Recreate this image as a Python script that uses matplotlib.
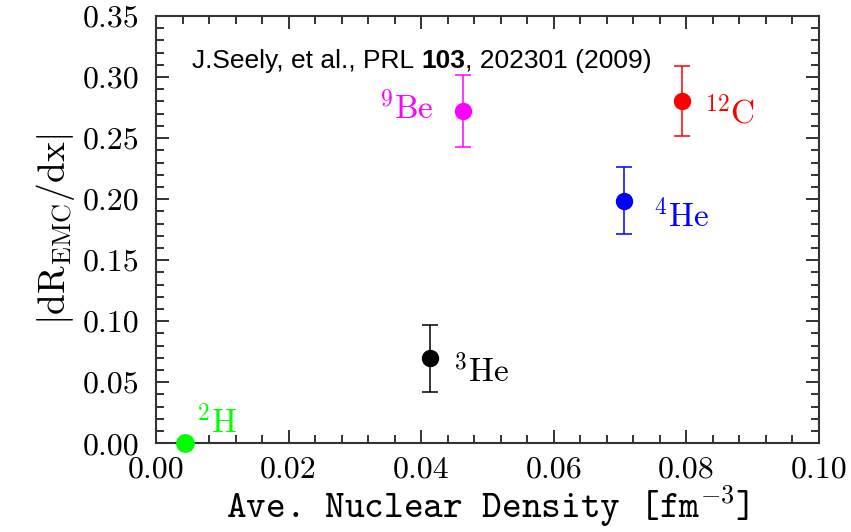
#!/usr/bin/env python3
import numpy as np
import matplotlib
matplotlib.use("Agg")
import matplotlib.pyplot as plt
from matplotlib.ticker import MultipleLocator

# nuclei, density (fm^-3), |dR_EMC/dx| and its error
nuclei = ["2H", "3He", "9Be", "4He", "12C"]
density = [0.0043, 0.0414, 0.0463, 0.0706, 0.0793]
slope = [0.0, 0.0696, 0.2720, 0.1988, 0.2803]
slope_err = [0.0, 0.0275, 0.0295, 0.0277, 0.0285]
colors = ["#00ff00", "black", "#ff00ff", "#0000ff", "#ff0000"]

label_text = [r"$^{2}\mathrm{H}$", r"$^{3}\mathrm{He}$", r"$^{9}\mathrm{Be}$",
              r"$^{4}\mathrm{He}$", r"$^{12}\mathrm{C}$"]
label_x = [0.0061, 0.0448, 0.0337, 0.0749, 0.0826]
label_y = [0.0082, 0.0505, 0.2654, 0.1774, 0.2621]

plt.rcParams["mathtext.fontset"] = "cm"
plt.rcParams["font.family"] = "cmr10"
plt.rcParams["axes.formatter.use_mathtext"] = True

fig = plt.figure(figsize=(8.51, 5.32), dpi=100)
ax = fig.add_axes([156 / 851, 1 - 443.3 / 532, (819 - 156) / 851, (443.3 - 16) / 532])

for i in range(len(nuclei)):
    if slope_err[i] > 0:
        ax.errorbar(density[i], slope[i], yerr=slope_err[i], fmt="o",
                    color=colors[i], markersize=11.5, elinewidth=1.1,
                    capsize=6, capthick=1.1, clip_on=False, zorder=3)
    else:
        ax.plot(density[i], slope[i], "o", color=colors[i], markersize=12.5,
                clip_on=False, zorder=3)
    ax.text(label_x[i], label_y[i], label_text[i], color=colors[i],
            fontsize=24, ha="left", va="baseline")

ax.set_xlim(0, 0.1)
ax.set_ylim(0, 0.35)
ax.xaxis.set_major_locator(MultipleLocator(0.02))
ax.xaxis.set_minor_locator(MultipleLocator(0.004))
ax.yaxis.set_major_locator(MultipleLocator(0.05))
ax.yaxis.set_minor_locator(MultipleLocator(0.01))
ax.xaxis.set_major_formatter(matplotlib.ticker.FormatStrFormatter("%.2f"))
ax.yaxis.set_major_formatter(matplotlib.ticker.FormatStrFormatter("%.2f"))

ax.tick_params(which="both", direction="in", top=True, right=True,
               color="#333333", width=1.4, labelsize=23)
ax.tick_params(which="major", length=9.5)
ax.tick_params(which="minor", length=5.5)
ax.tick_params(axis="y", pad=12)
ax.tick_params(axis="x", pad=9)
for sp in ax.spines.values():
    sp.set_linewidth(1.5)
    sp.set_color("#333333")

ax.set_xlabel(r"Ave. Nuclear Density [fm$^{\mathrm{-3}}$]", family="cmtt10",
              fontsize=27, labelpad=0)
ax.set_ylabel(r"$|\mathrm{dR}_{\mathrm{EMC}}/\mathrm{dx}|$", fontsize=27,
              labelpad=4)

# reference line, with the volume number in bold
ref_font = dict(family="Liberation Sans", fontsize=19)
t1 = ax.text(0.0055, 0.3076, "J.Seely, et al., PRL ", va="baseline", **ref_font)
t2 = ax.annotate("103", xy=(1, 0), xycoords=t1, va="bottom", ha="left",
                 fontweight="bold", **ref_font)
ax.annotate(", 202301 (2009)", xy=(1, 0), xycoords=t2, va="bottom", ha="left",
            **ref_font)

fig.savefig("out.png", dpi=100)
